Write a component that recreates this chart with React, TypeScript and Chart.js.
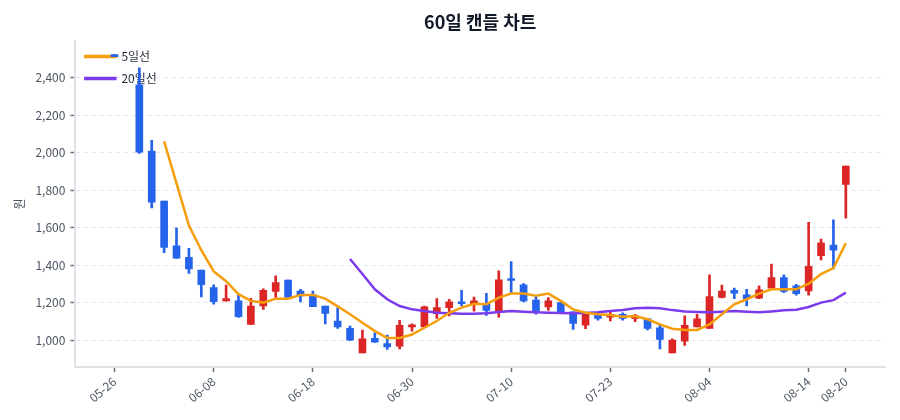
import React, { useEffect, useRef } from "react";
import { Chart, registerables } from "chart.js";

Chart.register(...registerables);
Chart.defaults.font.family = "'Noto Sans CJK KR', 'Noto Sans', sans-serif";

// 60 trading days
const dates = [
  "05-26", "05-27", "05-28", "05-29", "05-30", "06-02", "06-03", "06-05",
  "06-08", "06-09", "06-10", "06-11", "06-12", "06-13", "06-16", "06-17",
  "06-18", "06-19", "06-20", "06-23", "06-24", "06-25", "06-26", "06-27",
  "06-30", "07-01", "07-02", "07-03", "07-04", "07-07", "07-08", "07-09",
  "07-10", "07-11", "07-14", "07-15", "07-16", "07-17", "07-18", "07-21",
  "07-23", "07-24", "07-25", "07-28", "07-29", "07-30", "07-31", "08-01",
  "08-04", "08-05", "08-06", "08-07", "08-08", "08-11", "08-12", "08-13",
  "08-14", "08-18", "08-19", "08-20",
];

const opens = [
  2520, 2720, 2361, 2008, 1742, 1504, 1442, 1374, 1281, 1210,
  1210, 1085, 1183, 1260, 1321, 1263, 1242, 1183, 1103, 1064,
  933, 1010, 983, 969, 1072, 1072, 1142, 1174, 1205, 1195,
  1195, 1156, 1326, 1296, 1215, 1178, 1201, 1152, 1081, 1133,
  1124, 1139, 1117, 1115, 1067, 933, 996, 1072, 1064, 1228,
  1267, 1242, 1224, 1278, 1335, 1290, 1263, 1451, 1508, 1831,
];
const highs = [
  2522, 2760, 2452, 2066, 1742, 1599, 1490, 1374, 1296, 1294,
  1242, 1224, 1274, 1344, 1321, 1272, 1263, 1183, 1174, 1076,
  1055, 1040, 1028, 1107, 1088, 1183, 1222, 1219, 1267, 1231,
  1251, 1370, 1420, 1302, 1233, 1228, 1201, 1152, 1139, 1142,
  1152, 1147, 1139, 1117, 1081, 1008, 1130, 1139, 1349, 1294,
  1278, 1272, 1290, 1406, 1349, 1299, 1629, 1540, 1642, 1929,
];
const lows = [
  2511, 2610, 1996, 1706, 1467, 1436, 1356, 1231, 1192, 1208,
  1122, 1083, 1165, 1228, 1226, 1205, 1179, 1088, 1064, 1000,
  933, 990, 951, 954, 1049, 1072, 1117, 1130, 1183, 1156,
  1133, 1124, 1254, 1205, 1139, 1160, 1147, 1058, 1062, 1107,
  1103, 1107, 1099, 1055, 954, 933, 973, 1072, 1064, 1226,
  1222, 1183, 1222, 1278, 1254, 1240, 1240, 1428, 1380, 1651,
];
const closes = [
  2512, 2650, 2003, 1736, 1495, 1438, 1380, 1296, 1206, 1222,
  1126, 1183, 1267, 1308, 1228, 1237, 1179, 1144, 1071, 1001,
  1008, 990, 965, 1080, 1081, 1178, 1174, 1205, 1195, 1210,
  1160, 1322, 1319, 1210, 1156, 1210, 1147, 1090, 1139, 1117,
  1139, 1117, 1130, 1064, 1005, 1001, 1080, 1115, 1233, 1263,
  1251, 1222, 1269, 1335, 1260, 1249, 1394, 1519, 1481, 1929,
];

const ma5 = [
  null, null, null, null, 2060, 1836, 1612, 1480, 1367, 1315,
  1246, 1210, 1201, 1222, 1222, 1242, 1242, 1222, 1181, 1139,
  1094, 1049, 1013, 1013, 1031, 1067, 1103, 1147, 1174, 1195,
  1192, 1228, 1249, 1249, 1237, 1249, 1210, 1165, 1147, 1139,
  1135, 1126, 1130, 1112, 1085, 1062, 1055, 1055, 1085, 1139,
  1192, 1219, 1249, 1272, 1272, 1272, 1302, 1353, 1385, 1517,
];
const ma20 = [
  null, null, null, null, null, null, null, null, null, null,
  null, null, null, null, null, null, null, null, null, 1433,
  1353, 1272, 1219, 1183, 1165, 1156, 1147, 1144, 1142, 1142,
  1144, 1151, 1156, 1152, 1149, 1147, 1146, 1144, 1146, 1149,
  1156, 1162, 1171, 1174, 1171, 1161, 1154, 1151, 1149, 1152,
  1156, 1152, 1149, 1154, 1160, 1163, 1178, 1201, 1214, 1254,
];

const xTickIndex = [0, 8, 16, 24, 32, 40, 48, 56, 59];

const UP = "#dc2626";
const DOWN = "#2563eb";
const ORANGE = "#f59e0b";
const PURPLE = "#7c3aed";
const TEXT = "#4b5563";
const TICK = "#6b7280";
const GRID = "#e5e7eb";
const AXIS = "#dfe2e7";

// legend sits inside the plot area, top-left
const legendInArea = {
  id: "legendInArea",
  afterLayout: (chart: Chart) => {
    const legend = chart.legend;
    if (!legend || !chart.chartArea) return;
    legend.top = chart.chartArea.top;
    legend.bottom = chart.chartArea.bottom;
  },
};

const App: React.FC = () => {
  const canvasRef = useRef<HTMLCanvasElement>(null);

  useEffect(() => {
    if (!canvasRef.current) return;

    const colors = closes.map((c, i) => (c >= opens[i] ? UP : DOWN));

    const chart = new Chart(canvasRef.current, {
      type: "bar",
      data: {
        datasets: [
          {
            type: "line",
            label: "5일선",
            data: ma5.map((v, i) => ({ x: i, y: v })),
            borderColor: ORANGE,
            backgroundColor: ORANGE,
            borderWidth: 2.5,
            pointRadius: 0,
            tension: 0,
          },
          {
            type: "line",
            label: "20일선",
            data: ma20.map((v, i) => ({ x: i, y: v })),
            borderColor: PURPLE,
            backgroundColor: PURPLE,
            borderWidth: 2.5,
            pointRadius: 0,
            tension: 0,
          },
          {
            label: "body",
            data: opens.map((o, i) => ({ x: i, y: [o, closes[i]] })),
            backgroundColor: colors,
            barThickness: 7,
            minBarLength: 2,
            grouped: false,
          },
          {
            label: "wick",
            data: lows.map((l, i) => ({ x: i, y: [l, highs[i]] })),
            backgroundColor: colors,
            barThickness: 2,
            grouped: false,
          },
        ] as any,
      },
      options: {
        responsive: true,
        maintainAspectRatio: false,
        animation: false,
        layout: { padding: { right: 7 } },
        plugins: {
          title: {
            display: true,
            text: "60일 캔들 차트",
            color: "#111827",
            fullSize: false,
            font: { size: 18, weight: "bold" },
            padding: { top: 3, bottom: 8 },
          },
          legend: {
            position: "chartArea",
            align: "start",
            labels: {
              boxWidth: 30,
              boxHeight: 1,
              padding: 10,
              color: "#1f2937",
              font: { size: 12 },
              filter: (item) => (item.datasetIndex ?? 0) < 2,
            },
          },
          tooltip: { enabled: false },
        },
        scales: {
          x: {
            type: "linear",
            min: -3.16,
            max: 62.16,
            offset: false,
            afterBuildTicks: (axis) => {
              axis.ticks = xTickIndex.map((v) => ({ value: v }));
            },
            ticks: {
              autoSkip: false,
              minRotation: 40,
              maxRotation: 40,
              color: TEXT,
              font: { size: 12 },
              padding: 2,
              callback: (v) => dates[v as number] ?? "",
            },
            grid: {
              offset: false,
              drawOnChartArea: false,
              drawTicks: true,
              tickLength: 5,
              tickColor: TICK,
              tickWidth: 1.5,
            },
            border: { color: AXIS, width: 2 },
          },
          y: {
            min: 857,
            max: 2597,
            title: {
              display: true,
              text: "원",
              color: TEXT,
              font: { size: 12 },
            },
            ticks: {
              stepSize: 200,
              includeBounds: false,
              color: TEXT,
              font: { size: 12 },
              padding: 5,
              callback: (v) => Number(v).toLocaleString("en-US"),
            },
            grid: {
              color: GRID,
              tickColor: TICK,
              tickLength: 5,
              tickWidth: 1.5,
            },
            border: { color: AXIS, width: 2, dash: [4, 4] },
          },
        },
      },
      plugins: [legendInArea],
    });

    return () => {
      chart.destroy();
    };
  }, []);

  return (
    <div style={{ position: "relative", width: "100%", height: "399px" }}>
      <canvas ref={canvasRef} />
    </div>
  );
};

export default App;
